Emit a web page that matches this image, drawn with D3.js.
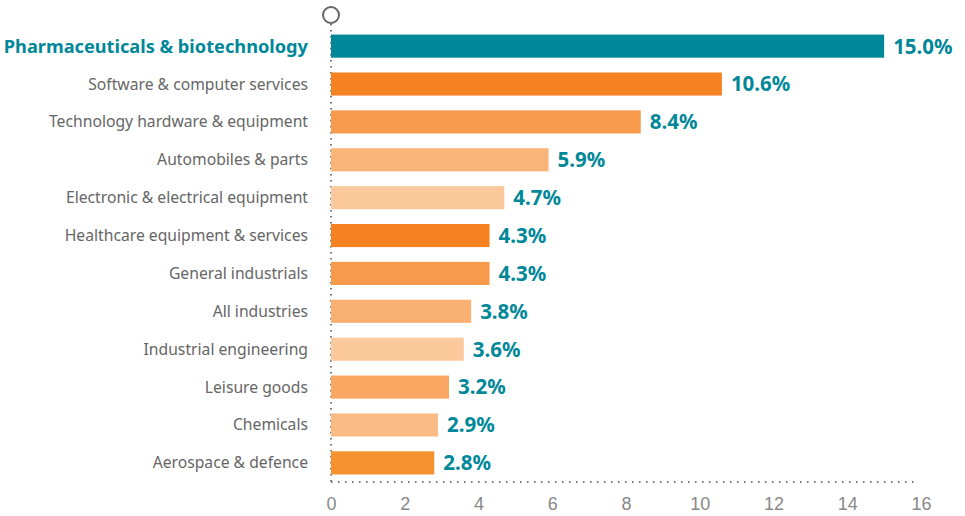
<!DOCTYPE html>
<html lang="en">
<head>
    <meta charset="UTF-8">
    <title>Sector share</title>
    <script src="https://d3js.org/d3.v7.min.js"></script>
    <style>
        html, body {
            margin: 0;
            padding: 0;
            background: #fff;
        }
        svg {
            display: block;
            font-family: "Noto Sans", "Open Sans", sans-serif;
        }
        .cat-label {
            fill: #666;
            font-size: 15.7px;
        }
        .cat-label.highlight {
            fill: #008899;
            font-size: 18.2px;
            font-weight: bold;
        }
        .value-label {
            fill: #008899;
            font-size: 20.5px;
            font-weight: bold;
        }
        .tick text {
            fill: #888;
            font-size: 18px;
            font-weight: 300;
        }
    </style>
</head>
<body>
    <svg id="chart" width="965" height="516"></svg>

    <script>
        // data
        var sectors = [
            "Pharmaceuticals & biotechnology",
            "Software & computer services",
            "Technology hardware & equipment",
            "Automobiles & parts",
            "Electronic & electrical equipment",
            "Healthcare equipment & services",
            "General industrials",
            "All industries",
            "Industrial engineering",
            "Leisure goods",
            "Chemicals",
            "Aerospace & defence"
        ];
        var shares = [15.0, 10.6, 8.4, 5.9, 4.7, 4.3, 4.3, 3.8, 3.6, 3.2, 2.9, 2.8];
        var xTicks = [0, 2, 4, 6, 8, 10, 12, 14, 16];

        // bar fills, one per row
        var barColours = ["#008899", "#f58220", "#f79a4c", "#f9b478", "#fcc99c", "#f58220",
                          "#f79a4c", "#f9b070", "#fcc99c", "#f9a762", "#fbbb85", "#f6912f"];

        var svg = d3.select("#chart");

        var x = d3.scaleLinear().domain([0, 16]).range([331, 921]);
        var y = d3.scaleBand().domain(sectors).range([27, 482]).paddingInner(0.39).paddingOuter(0.2);

        var rows = sectors.map(function(s, i) { return {name: s, value: shares[i], i: i}; });

        // vertical dotted axis
        svg.append("line")
            .attr("x1", x(0)).attr("x2", x(0))
            .attr("y1", 24).attr("y2", 482)
            .attr("stroke", "#777")
            .attr("stroke-width", 2)
            .attr("stroke-dasharray", "1.5,4.5");

        // horizontal dotted axis
        svg.append("line")
            .attr("x1", x(0)).attr("x2", 916)
            .attr("y1", 482).attr("y2", 482)
            .attr("stroke", "#777")
            .attr("stroke-width", 2)
            .attr("stroke-dasharray", "1.5,5.5");

        svg.append("circle")
            .attr("cx", x(0)).attr("cy", 15).attr("r", 8)
            .attr("fill", "#fff")
            .attr("stroke", "#666")
            .attr("stroke-width", 2);

        svg.selectAll(".bar")
            .data(rows)
            .enter().append("rect")
            .attr("class", "bar")
            .attr("x", x(0))
            .attr("y", function(d) { return y(d.name); })
            .attr("width", function(d) { return x(d.value) - x(0); })
            .attr("height", y.bandwidth())
            .attr("fill", function(d) { return barColours[d.i]; });

        svg.selectAll(".cat-label")
            .data(rows)
            .enter().append("text")
            .attr("class", function(d) { return d.i === 0 ? "cat-label highlight" : "cat-label"; })
            .attr("x", 308)
            .attr("y", function(d) { return y(d.name) + y.bandwidth() / 2; })
            .attr("dy", "0.35em")
            .attr("text-anchor", "end")
            .text(function(d) { return d.name; });

        svg.selectAll(".value-label")
            .data(rows)
            .enter().append("text")
            .attr("class", "value-label")
            .attr("x", function(d) { return x(d.value) + 9; })
            .attr("y", function(d) { return y(d.name) + y.bandwidth() / 2; })
            .attr("dy", "0.36em")
            .text(function(d) { return d.value.toFixed(1) + "%"; });

        svg.append("g")
            .attr("transform", "translate(0,482)")
            .call(d3.axisBottom(x).tickValues(xTicks).tickSize(0).tickPadding(15))
            .call(g => g.select(".domain").remove());
    </script>
</body>
</html>
